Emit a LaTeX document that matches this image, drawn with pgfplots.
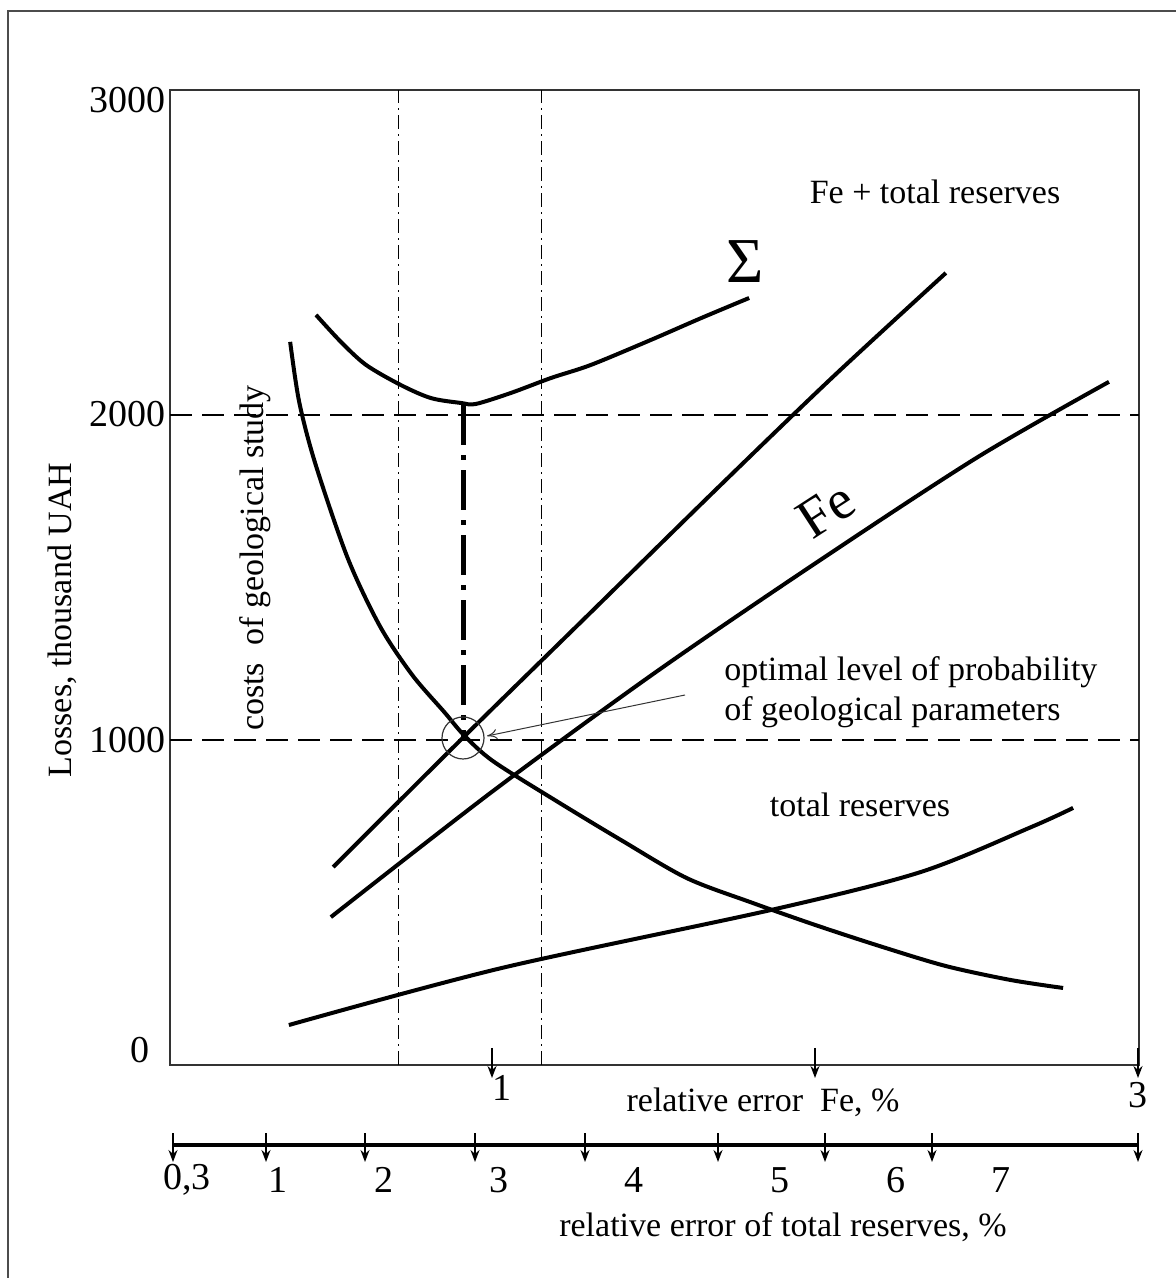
\documentclass[border=0pt]{standalone}
\usepackage{pgfplots}
\pgfplotsset{compat=1.18}
\usepackage{fontspec}
\setmainfont{Liberation Serif}
\usetikzlibrary{arrows.meta}
\newcommand{\lbl}{\fontsize{17}{20}\selectfont}
\newcommand{\tkl}{\fontsize{19}{21}\selectfont}
\begin{document}
\begin{tikzpicture}
\begin{axis}[
  scale only axis, width=484.5pt, height=487.5pt,
  xmin=0, xmax=3, ymin=0, ymax=3000,
  ticks=none, clip=false,
  axis line style={line width=0.7pt, black!80},
]
\coordinate (O) at (rel axis cs:0,0);
% reference lines
\draw[black, line width=0.6pt, dash pattern=on 11pt off 5pt] (axis cs:0,2000) -- (axis cs:3,2000);
\draw[black, line width=0.6pt, dash pattern=on 11pt off 5pt] (axis cs:0,1000) -- (axis cs:3,1000);
\draw[black, line width=0.5pt, dash pattern=on 7pt off 2.5pt on 1pt off 2.5pt] (axis cs:0.706,0) -- (axis cs:0.706,3000);
\draw[black, line width=0.5pt, dash pattern=on 7pt off 2.5pt on 1pt off 2.5pt] (axis cs:1.149,0) -- (axis cs:1.149,3000);
\draw[black, line width=2.6pt, dash pattern=on 20pt off 5pt on 2.5pt off 5pt] (axis cs:0.908,2030) -- (axis cs:0.908,1010);
% costs of geological study
\addplot[black, line width=2pt, smooth, tension=0.5] coordinates {
(0.372,2225)(0.40,2040)(0.45,1850)(0.55,1560)(0.65,1350)(0.75,1200)(0.85,1085)(0.91,1015)(1.0,935)(1.2,810)(1.4,690)(1.6,575)(1.8,500)(2.0,430)(2.2,365)(2.4,305)(2.6,262)(2.765,237)};
% Sigma
\addplot[black, line width=2pt, smooth, tension=0.5] coordinates {
(0.452,2308)(0.529,2225)(0.607,2154)(0.715,2092)(0.808,2052)(0.901,2037)(0.947,2034)(1.056,2068)(1.180,2114)(1.303,2154)(1.489,2231)(1.644,2298)(1.793,2360)};
% Fe + total reserves
\addplot[black, line width=2pt, smooth, tension=0.5] coordinates {
(0.505,609)(0.910,1010)(1.30,1390)(1.70,1780)(2.05,2115)(2.402,2437)};
% Fe
\addplot[black, line width=2pt, smooth, tension=0.5] coordinates {
(0.498,455)(1.0,843)(1.5,1206)(2.0,1545)(2.5,1870)(2.907,2102)};
% total reserves
\addplot[black, line width=2pt, smooth, tension=0.5] coordinates {
(0.368,123)(1.025,298)(1.861,477)(2.325,594)(2.666,732)(2.796,791)};
\end{axis}
\begin{scope}[shift={(O)}, x=0.5pt, y=-0.5pt, shift={(-170,-1065)}]
% outer frame
\draw[black!70, line width=1pt] (8,1278) -- (8,11) -- (1176,11);
% y tick labels
\node[anchor=east, inner sep=0pt] at (166,100) {\tkl 3000};
\node[anchor=east, inner sep=0pt] at (166,414) {\tkl 2000};
\node[anchor=east, inner sep=0pt] at (166,740) {\tkl 1000};
\node[inner sep=0pt] at (140,1050) {\tkl 0};
% Fe axis arrows and labels
\foreach \px in {492,815,1138} {
  \draw[black, line width=0.8pt, -{Stealth[length=6pt,width=4.5pt]}] (\px,1048) -- (\px,1078);
}
\node[inner sep=0pt] at (502,1088) {\tkl 1};
\node[inner sep=0pt] at (1138,1095) {\tkl 3};
\node[inner sep=0pt] at (763,1102) {\lbl relative error\ \ Fe, \%};
% second axis
\draw[black, line width=2.4pt] (173,1145) -- (1138,1145);
\foreach \px in {173,266,365,475,585,718,825,932,1138} {
  \draw[black, line width=0.8pt, -{Stealth[length=6pt,width=4.5pt]}] (\px,1133) -- (\px,1162);
}
\node[inner sep=0pt] at (187,1180) {\tkl 0,3};
\node[inner sep=0pt] at (278,1180) {\tkl 1};
\node[inner sep=0pt] at (384,1180) {\tkl 2};
\node[inner sep=0pt] at (499,1180) {\tkl 3};
\node[inner sep=0pt] at (634,1180) {\tkl 4};
\node[inner sep=0pt] at (780,1180) {\tkl 5};
\node[inner sep=0pt] at (896,1180) {\tkl 6};
\node[inner sep=0pt] at (1001,1180) {\tkl 7};
\node[inner sep=0pt] at (783,1227) {\lbl relative error of total reserves, \%};
% axis title
\node[rotate=90, inner sep=0pt] at (62,620) {\lbl Losses, thousand UAH};
\node[rotate=90, inner sep=0pt] at (255,558) {\lbl costs\ \ of geological study};
% annotations
\node[inner sep=0pt] at (935,192) {\lbl Fe + total reserves};
\node[inner sep=0pt] at (745,262) {\fontsize{32}{34}\selectfont Σ};
\node[inner sep=0pt, rotate=33] at (826,510) {\fontsize{28}{30}\selectfont Fe};
\node[inner sep=0pt] at (860,805) {\lbl total reserves};
\node[anchor=west, align=left, inner sep=0pt, font=\lbl] at (724,692) {optimal level of probability\\of geological parameters};
\draw[black!80, line width=0.6pt] (463,738) circle (21);
\draw[black!80, line width=0.5pt, -{To[length=5pt,width=5pt]}] (685,695) -- (487,736);
\pgfresetboundingbox
\path[use as bounding box] (0,0) rectangle (1176,1278);
\end{scope}
\end{tikzpicture}
\end{document}
